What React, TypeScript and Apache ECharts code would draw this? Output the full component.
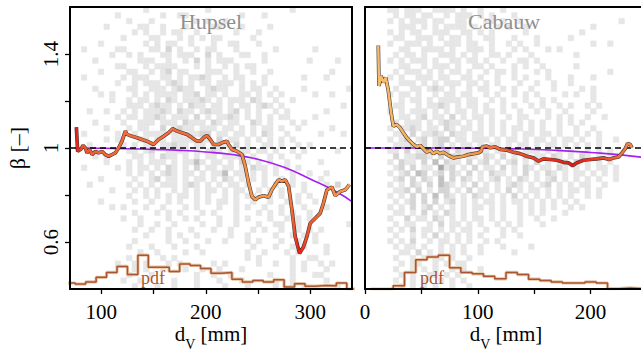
import React, { useEffect, useRef } from 'react';
import * as echarts from 'echarts';

const FONT = 'Liberation Serif';

// ---- axes ----
const hupselXRange = [70, 340];
const cabauwXRange = [0, 250];
const betaRange = [0.4, 1.6];
const hupselXTicks = [100, 150, 200, 250, 300];
const hupselXLabels = [100, 200, 300];
const cabauwXTicks = [0, 50, 100, 150, 200];
const cabauwXLabels = [0, 100, 200];
const betaTicks = [0.6, 0.8, 1, 1.2, 1.4];
const betaLabels = [0.6, 1, 1.4];
const pdfRange = [0, 80];
const refBeta = 1;

// ---- running mean of beta ----
const hupselMean = [
  [76.1, 1.089], [77.3, 0.986], [80.6, 0.996], [82.5, 1.011], [84.7, 1.0], [86.3, 0.979], [88.8, 0.994],
  [91.1, 0.972], [94.3, 0.986], [97.4, 0.979], [100.6, 0.986], [103.8, 0.972], [107, 0.965], [110.2, 0.972],
  [113.4, 0.979], [116.6, 1.001], [119.8, 1.029], [123, 1.072], [124.6, 1.058], [129.4, 1.05], [134.2, 1.044],
  [138.9, 1.036], [143.7, 1.029], [150, 1.015], [154.8, 1.036], [159.6, 1.05], [164.4, 1.065], [168.2, 1.082],
  [172.4, 1.072], [177.2, 1.065], [182, 1.058], [186.8, 1.044], [191.6, 1.029], [194.7, 1.029], [197.9, 1.044],
  [201.1, 1.053], [204.3, 1.036], [207.5, 1.015], [212.3, 1.015], [217, 1.025], [220.3, 1.029], [221.8, 1.015],
  [225.1, 0.994], [229.9, 0.986], [234.6, 0.972], [237.8, 0.922], [241, 0.851], [244.2, 0.794], [247.4, 0.78],
  [250.5, 0.791], [255.3, 0.797], [260.1, 0.791], [263.3, 0.822], [266.5, 0.844], [269.7, 0.865], [272.9, 0.858],
  [276.1, 0.865], [279.3, 0.837], [282.5, 0.737], [285.6, 0.623], [289.8, 0.552], [293.6, 0.58], [296.8, 0.623],
  [300, 0.68], [304.8, 0.701], [309.6, 0.723], [312.7, 0.766], [316, 0.822], [320.8, 0.834], [323.9, 0.797],
  [328.7, 0.815], [333.5, 0.822], [337.6, 0.844]
];
const cabauwMean = [
  [11.8, 1.436], [12.4, 1.264], [14.2, 1.307], [16.3, 1.279], [18.4, 1.3], [20.7, 1.243], [23.1, 1.151],
  [25.1, 1.093], [28.1, 1.1], [31.1, 1.086], [34, 1.065], [37, 1.044], [39.9, 1.029], [42.9, 1.015],
  [45.9, 1.005], [48.8, 1.011], [51.7, 0.997], [54.7, 0.982], [57.7, 0.991], [60.6, 0.976], [63.6, 0.986],
  [66.5, 0.976], [69.5, 0.982], [73.9, 0.968], [78.4, 0.958], [82.8, 0.962], [87.2, 0.965], [91.7, 0.972],
  [96.1, 0.976], [100.5, 0.979], [102.9, 0.986], [104.1, 1.005], [108, 1.008], [110.9, 1.001], [115.4, 1.005],
  [119.8, 0.994], [125.7, 0.991], [131.6, 0.982], [137.5, 0.976], [143.5, 0.965], [149.4, 0.958], [153.8, 0.944],
  [158.2, 0.954], [164.2, 0.951], [170.1, 0.948], [176, 0.939], [180.4, 0.937], [184, 0.925], [187.9, 0.937],
  [193.7, 0.948], [199.6, 0.951], [205.6, 0.954], [211.5, 0.958], [216.5, 0.951], [220.3, 0.958], [224.8, 0.962],
  [227.8, 0.979], [230.7, 0.997], [232.8, 1.019], [235.2, 1.015], [236.7, 1.001]
];
// colour of the running mean along d_V
const hupselMeanColors = [
  [76, '#e3201a'], [82, '#f0522c'], [100, '#f46434'], [150, '#f6703a'], [200, '#f46a36'], [230, '#f58244'],
  [245, '#f7984e'], [270, '#f7984c'], [282, '#f2743a'], [289, '#e81c14'], [296, '#ee4e2a'], [310, '#f47036'],
  [325, '#f79048'], [337.6, '#f8a052']
];
const cabauwMeanColors = [
  [11.8, '#f6bc6c'], [60, '#f4ae5c'], [100, '#f4944a'], [115, '#f26a38'], [150, '#ec3c22'], [185, '#e41a14'],
  [210, '#ec4628'], [230, '#f27a40'], [236.7, '#f48c48']
];

// ---- fitted curve ----
const hupselFit = [
  [75, 1.0], [100, 0.999], [125, 0.997], [150, 0.994], [175, 0.99], [200, 0.983], [225, 0.972],
  [250, 0.952], [275, 0.918], [300, 0.868], [325, 0.814], [340, 0.772]
];
const cabauwFit = [
  [0, 1.0], [50, 1.0], [100, 0.999], [140, 0.996], [170, 0.99], [200, 0.981], [225, 0.972], [250, 0.958]
];

// ---- pdf of d_V (10 mm bins) ----
const pdfBin = 10;
const hupselPdfStart = 65;
const hupselPdf = [1.7, 1.4, 2.0, 3.3, 4.7, 6.4, 4.1, 9.6, 6.2, 6.2, 5.0, 7.1, 6.7, 5.8, 4.5, 4.7, 2.8, 2.0,
  2.4, 2.0, 2.6, 0.6, 1.5, 0.8, 1.0, 0.9, 1.7, 0];
const cabauwPdfStart = 5;
const cabauwPdf = [0, 0, 0.9, 4.7, 8.3, 9.1, 9.6, 6.0, 4.7, 4.3, 3.6, 2.9, 4.7, 4.1, 2.8, 2.4, 2.0, 1.7, 1.7,
  2.0, 1.7, 0.1, 0.3, 0.1];

// ---- 2-D histogram (50 x 50 bins, top row = beta 1.6), '.' empty, 1..4 grey level ----
const histLevels = ['#e6e6e6', '#d5d5d5', '#c0c0c0', '#a8a8a8'];
const hupselHist = [
  ".............1..........1..............1.........",
  "........1.......1..11.........1...1...............",
  "..........1...1.......1.1..1......................",
  "......1.....11..1...1....11...1....1..............",
  "...........1.1..1.11..1......1...1................",
  ".........1....11...1.1.1.11.....1.................",
  ".....1.......1.1.11..1...1..11...1................",
  "..1.....11....11.2.1..1.11...1......1......1......",
  ".......1..1.1...11.111..2.1...11..1...............",
  "....1.......111..1..1.2.1.111.....1.......1....1..",
  "........11...1.1111...1.1..1.1.11.................",
  ".....1....11..1.12.11...111..1..1..1..........1...",
  "..1......1.111..11.1.1121..1.11...1......1...1....",
  "........1..1.111.121.1.11.111.1.1.1...............",
  "....1.....11..111.1211..1211..1.11..1....1.......1",
  ".....1.1...1.1.1111.112.11.1..11.1.1.1.....1..1...",
  ".......1..1.11.1.21.11121.1.111.21..1..1..........",
  "..........111.1211.1.211.11.1.11.121.1..........1.",
  "...1..1..1.1.11121.211.1211.12.1.1..1.1......1....",
  "........1.11.1121.111.2.1.1121.1.1.1.11....1......",
  "....1....1..111.111.2111.21.11..21.1...1.1........",
  "......1...1.11..2.1211.111.11.1.1.11.1..1.....1...",
  "..1.....1..1.1111.11.1122.11.11.1.21..1.....1...1.",
  "......1.1...11.11.1111.11.2.11.1.1.1.1.1..........",
  "...1.....1.1.11.11211.11.111.2.1..11.1..1.1.......",
  "..........11.12..1111.1.121.1.11.11.1..1.1.....1..",
  "....1.1....11.1.211.1.1.11.1112.1..1.1..1.........",
  "......1...1.1.111.1.1131.11.1.21.1.1..1.....1.....",
  "..1.....1.1.11.1.21.1.2.11.11.1.211.1.1.1.........",
  "..........1.1.1.121.11.1.113.11.1.1.1..1..1..1....",
  ".....1.....1..12.11.1.11.1.21.1.1.1..1.1....1.....",
  "...1......1.1.1.111.121.1.1.11.1..1.1..1.1...1.2..",
  ".......1...1.1.1..1.1.1.11.1.11..1.1.1...1........",
  "..........1..1.1.1.11.1.1..1.1.11..1.1..1.1.......",
  ".....1.....1..1..1.1..1.1.11.1..1..1..1.1..1......",
  ".......1.1...1..1...1.1...1..1.1..1..1...1...1....",
  "...........1...1.1.1...1.1...1...1.1.1.1..1.......",
  ".........1..1....1..1.1...1..1.1...1..1.1.1.......",
  "............1..1..1....1..1..1...1..11..1........1",
  "...........1..1..1...1...1..1...1.1..1..1.1.1.....",
  ".............1...1.1..1.....1..1....1..1.1.1......",
  "...........1.....1..1...1..1...1.1...1..1..1......",
  "..........1...1...1...1.........1...1..1.1...1....",
  "............1..1....1..1.......1..1...1.1....1....",
  "..........1.....1.1............1.1.....1..11......",
  "........1..1.1...1.1.....1.1.....1..1..1.1..1.1...",
  "...........1.1..1...1..1..1...1........1.1...1....",
  "..........1...1.......1..1..1......1...1...11.....",
  ".........1..1.....1...1...1...1.....1..1.....1....",
  "...........1...1..1...1....1...1....1..1.1.....1.."
];
const cabauwHist = [
  "....11.111..1111.1..1...1........................",
  ".....1.11.11..1.111.1.1...1......................",
  "....1.1.111.11..11...11.1..1.................1....",
  "......111.1.1.1111.1...1.1..1...........1.........",
  "....1.1.11..111..11.1.1.....1.........1...........",
  ".....11..111.1.11.1..11...1...1.....1.............",
  "....1..111.1..111.11..1..1.1..1.........1..1......",
  "......11..1111.1..111.1...1.1...1.1...............",
  ".....1.11.1..111.1.1..11.1...1.......1............",
  "....1.1.111.1..11.11.1..1..11.1...................",
  "......11..1.111.1..11.1...1.1..1.....1............",
  ".....1.111.1.1.11.1..1.11.1...1.1..........1......",
  "....1.1..111.11..11.1..1..1.1...1...1...1.........",
  "......111.1.1.111.11.1.1...1..1..1..1.............",
  ".....1..11.121.1..1.11..1.1..1...1....1.1.........",
  "....1.11.1..1.11.11..1.1..1.1.1....1.1..1.........",
  "......1.11.1.1111.11..1.1...1..1.1......1.........",
  ".....11..1.1121.1.11.1..1.1..1.1..1.1..1.1........",
  "....1.1.111.1.1.11.1.11.1..1..1.1..1....1.........",
  "......11.12.11.2.1.11.1..1.11...1.1.1..1..1.......",
  ".....1.111.1.1211.1.1.1.1..1.1.1..1.1.1...........",
  "....1.1121.11.21.11.1.1.1.11.1.1..1..1..1.........",
  ".....11.2.1121.211.11.1.1.1.11.11.1..1.1.1........",
  "....1.12.12.122.11.111.1.11.1.11.1.11.1..1..1.....",
  ".....1112.2.12.1.11.1.11.1.11.1.11.1.1.1.1........",
  "....11.2.112.12.211.21.11.1.111.1.1.1..1.1.1......",
  ".....2.11221.2.21.11.21.2.1.2.11.21.1.21.1.1......",
  "....1.211.2.3.211.2.12.1.12.1.2.1.11.2.1.1.1......",
  ".....12.2.11.412.1.2.11.2.1.21.11.21.1.1.11.1.....",
  "....1.12.32.12.21.2.1.211.1.2.1.21.1.11.1.1.1.....",
  ".....12.2.21.3.2.21.1.12.1.21.1.12.1.1.1.1..1.....",
  "....1.1.21.2.321.1.2.1.1.121.1.12.1.1.11..1.......",
  ".....112.2.1.22.1.2.11.1.2.1.11.1.1.11.1.1........",
  "....1.1.2.2.3.21.1.21.1.1.2.1.1.1.1.1..1.1........",
  ".....1.12.2.2.12.1.1.11.1.11.1.1.1.1.1............",
  "....1.1.2.12.1.1.1.11.1.1..1.1.1.1..1.1...........",
  ".....11.1.2.1.21.1.1..1.1..1.1.1...1..............",
  "....1..2.11.21.1.1.11.1.1..1..1..1................",
  ".....1.11..1.2.11.1.1..1.1.1...1..................",
  "....1.1.2.11.1.1.11..1..1.1.......................",
  ".....1..1.1.2.1.1.1.1...1..1......................",
  "....1.1.2..1.11.1.1..1.1..........................",
  ".....1.11.1..1.1.1..1...1....1....................",
  "......11.2.1.1.1.1..1.....1.......................",
  ".....1..1.1.11.1..1...............................",
  "......1.11..1.1.11................................",
  ".....1..1.1.1..1.1..1.............................",
  "......1.1..11.1.1.................................",
  ".....1..1.1..1.1.1................................",
  "......1.1.1.1..1..1..............................."
];

const NB = 50;

function histData(rows: string[], xr: number[]) {
  const dx = (xr[1] - xr[0]) / NB;
  const dy = (betaRange[1] - betaRange[0]) / NB;
  const out: number[][] = [];
  rows.forEach((row, r) => {
    for (let c = 0; c < NB; c++) {
      const ch = row[c];
      if (ch && ch !== '.') out.push([xr[0] + c * dx, betaRange[1] - r * dy, Number(ch)]);
    }
  });
  return { data: out, dx, dy };
}

function pdfData(start: number, vals: number[]) {
  const d = vals.map((v, i) => [start + i * pdfBin, v]);
  d.push([start + vals.length * pdfBin, vals[vals.length - 1]]);
  return d;
}

function gradient(stops: (number | string)[][], pts: number[][]) {
  const x0 = pts[0][0];
  const x1 = pts[pts.length - 1][0];
  return {
    type: 'linear', x: 0, y: 0, x2: 1, y2: 0,
    colorStops: stops.map(([x, c]) => ({ offset: Math.min(1, Math.max(0, ((x as number) - x0) / (x1 - x0))), color: c as string }))
  };
}

export default function App() {
  const ref = useRef<HTMLDivElement>(null);
  useEffect(() => {
    if (!ref.current) return;
    const chart = echarts.init(ref.current, undefined, { renderer: 'svg' });

    const hH = histData(hupselHist, hupselXRange);
    const hC = histData(cabauwHist, cabauwXRange);

    const heatSeries = (h: { data: number[][]; dx: number; dy: number }, xi: number, yi: number) => ({
      type: 'custom',
      xAxisIndex: xi,
      yAxisIndex: yi,
      clip: true,
      silent: true,
      z: 1,
      data: h.data,
      renderItem: (params: any, api: any) => {
        const p = api.coord([api.value(0), api.value(1)]);
        const s = api.size([h.dx, h.dy]);
        const col = histLevels[api.value(2) - 1];
        return {
          type: 'rect',
          shape: { x: p[0], y: p[1], width: s[0], height: s[1] },
          style: { fill: col, stroke: col, lineWidth: 0.4 }
        };
      }
    });

    const txt = { fontFamily: FONT, color: '#000' };
    const nameStyle = {
      fontFamily: FONT, fontSize: 21, color: '#000', lineHeight: 34,
      rich: {
        m: { fontFamily: FONT, fontSize: 21, color: '#000', lineHeight: 34 },
        s: { fontFamily: FONT, fontSize: 14, color: '#000', verticalAlign: 'bottom', lineHeight: 14 }
      }
    };
    const frame = { show: true, lineStyle: { color: '#000', width: 2 } };
    const tick = (vals: number[]) => ({ show: true, customValues: vals, length: 5, inside: false, lineStyle: { color: '#000', width: 1.3 } });

    const xMain = (gi: number, xr: number[], ticks: number[], labels: number[]) => ({
      type: 'value', gridIndex: gi, min: xr[0], max: xr[1], position: 'bottom', z: 5,
      axisLine: frame, axisTick: tick(ticks),
      axisLabel: { customValues: labels, fontSize: 21, margin: 12, ...txt },
      splitLine: { show: false },
      name: '{m|d}{s|V}{m| [mm]}', nameLocation: 'middle', nameGap: 28, nameMoveOverlap: false,
      nameTextStyle: nameStyle
    });
    const xTop = (gi: number, xr: number[]) => ({
      type: 'value', gridIndex: gi, min: xr[0], max: xr[1], position: 'top', z: 5,
      axisLine: frame, axisTick: { show: false }, axisLabel: { show: false }, splitLine: { show: false }
    });
    const yFrame = (gi: number, pos: string) => ({
      type: 'value', gridIndex: gi, min: betaRange[0], max: betaRange[1], position: pos, z: 5,
      axisLine: frame, axisTick: { show: false }, axisLabel: { show: false }, splitLine: { show: false }
    });
    const yPdf = (gi: number) => ({
      type: 'value', gridIndex: gi, min: pdfRange[0], max: pdfRange[1], show: false, splitLine: { show: false }
    });

    const meanPair = (pts: number[][], stops: (number | string)[][], xi: number, yi: number) => [
      {
        type: 'line', xAxisIndex: xi, yAxisIndex: yi, data: pts, showSymbol: false, symbol: 'none', z: 6,
        lineStyle: { color: '#4a3a34', width: 3.7 }, silent: true
      },
      {
        type: 'line', xAxisIndex: xi, yAxisIndex: yi, data: pts, showSymbol: false, symbol: 'none', z: 7,
        lineStyle: { color: gradient(stops, pts), width: 2.5 }, silent: true
      }
    ];
    const fitLine = (pts: number[][], xi: number, yi: number) => ({
      type: 'line', xAxisIndex: xi, yAxisIndex: yi, data: pts, showSymbol: false, symbol: 'none', smooth: true, z: 4,
      lineStyle: { color: '#a321f0', width: 1.6 }, silent: true,
      markLine: {
        silent: true, symbol: 'none', z: 5, label: { show: false },
        lineStyle: { color: '#000', type: [6, 4], width: 1.5 },
        data: [{ yAxis: refBeta }]
      }
    });
    const pdfLines = (start: number, vals: number[], xi: number, yi: number) => [
      {
        type: 'line', xAxisIndex: xi, yAxisIndex: yi, data: pdfData(start, vals), step: 'end', showSymbol: false,
        symbol: 'none', z: 2, lineStyle: { color: '#e8c2a2', width: 3.2 }, silent: true
      },
      {
        type: 'line', xAxisIndex: xi, yAxisIndex: yi, data: pdfData(start, vals), step: 'end', showSymbol: false,
        symbol: 'none', z: 3, lineStyle: { color: '#a9552f', width: 1.5 }, silent: true
      }
    ];

    chart.setOption({
      animation: false,
      backgroundColor: '#fff',
      grid: [
        { left: 70, top: 7, width: 282, height: 282, outerBoundsMode: 'none', containLabel: false },
        { left: 365, top: 7, width: 282, height: 282, outerBoundsMode: 'none', containLabel: false }
      ],
      xAxis: [
        xMain(0, hupselXRange, hupselXTicks, hupselXLabels),
        xTop(0, hupselXRange),
        xMain(1, cabauwXRange, cabauwXTicks, cabauwXLabels),
        xTop(1, cabauwXRange)
      ],
      yAxis: [
        {
          type: 'value', gridIndex: 0, min: betaRange[0], max: betaRange[1], position: 'left', z: 5,
          axisLine: frame, axisTick: tick(betaTicks),
          axisLabel: { customValues: betaLabels, rotate: 90, fontSize: 21, margin: 9, ...txt },
          splitLine: { show: false },
          name: 'β [–]', nameLocation: 'middle', nameGap: 42, nameMoveOverlap: false,
          nameTextStyle: { fontFamily: FONT, fontSize: 22, color: '#000' }
        },
        yFrame(0, 'right'),
        yPdf(0),
        yFrame(1, 'left'),
        yPdf(1)
      ],
      series: [
        heatSeries(hH, 0, 0),
        heatSeries(hC, 2, 3),
        ...pdfLines(hupselPdfStart, hupselPdf, 0, 2),
        ...pdfLines(cabauwPdfStart, cabauwPdf, 2, 4),
        fitLine(hupselFit, 0, 0),
        fitLine(cabauwFit, 2, 3),
        ...meanPair(hupselMean, hupselMeanColors, 0, 0),
        ...meanPair(cabauwMean, cabauwMeanColors, 2, 3)
      ],
      graphic: [
        { type: 'text', x: 211, y: 21, z: 10, style: { text: 'Hupsel', fontFamily: FONT, fontSize: 22, fill: '#8f8f8f', align: 'center', verticalAlign: 'middle' } },
        { type: 'text', x: 504, y: 21, z: 10, style: { text: 'Cabauw', fontFamily: FONT, fontSize: 22, fill: '#8f8f8f', align: 'center', verticalAlign: 'middle' } },
        { type: 'text', x: 153, y: 278, z: 10, style: { text: 'pdf', fontFamily: FONT, fontSize: 18, fill: '#a9552f', align: 'center', verticalAlign: 'middle' } },
        { type: 'text', x: 432, y: 278, z: 10, style: { text: 'pdf', fontFamily: FONT, fontSize: 18, fill: '#a9552f', align: 'center', verticalAlign: 'middle' } }
      ]
    });
    return () => chart.dispose();
  }, []);
  return <div ref={ref} style={{ position: 'fixed', left: 0, top: 0, width: 641, height: 353 }} />;
}
